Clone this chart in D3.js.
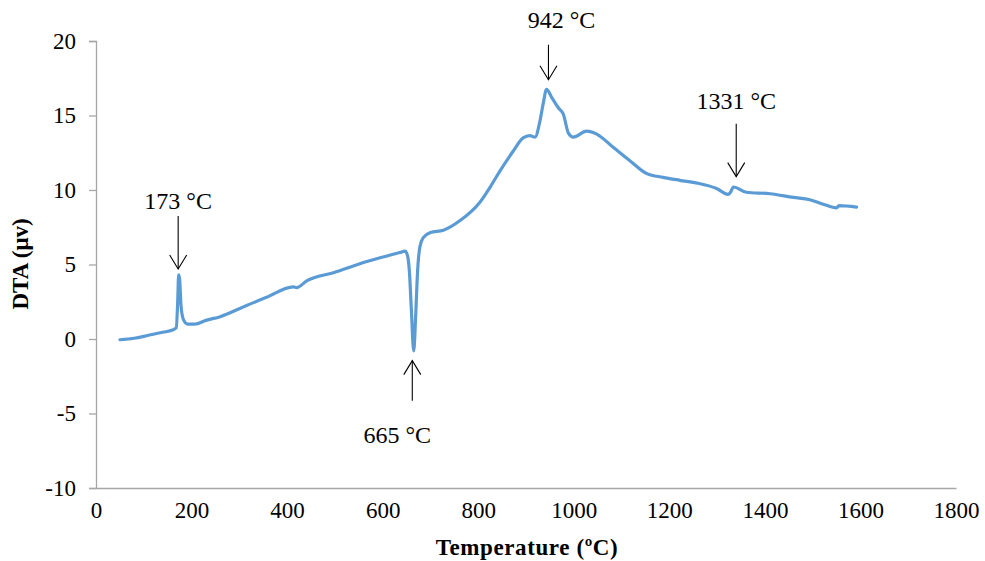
<!doctype html>
<html>
<head>
<meta charset="UTF-8">
<title>DTA</title>
<script src="https://d3js.org/d3.v7.min.js"></script>
<style>
    body { margin: 0; background: #fff; }
    svg text { font-family: "Liberation Serif", "Times New Roman", serif; fill: #000; }
</style>
</head>
<body>
<svg width="985" height="561"></svg>
<script>
    // curve
    var temps = [50, 80, 110, 140, 160, 168, 171, 173, 175, 178, 183, 192, 207, 230, 260, 308, 357, 413, 420, 441,
        497, 567, 636, 647, 652, 656, 660, 665, 669, 673, 678, 685, 700, 727, 762, 804, 825, 846, 873, 894,
        908, 919, 929, 936, 943, 954, 968, 978, 989, 999, 1027, 1048, 1083, 1118, 1153, 1187, 1222, 1260, 1299, 1323,
        1328, 1334, 1361, 1411, 1460, 1494, 1522, 1550, 1555, 1592];
    var dta = [-0.05, 0.05, 0.25, 0.45, 0.6, 0.75, 2.5, 4.3, 4.0, 2.2, 1.3, 1.0, 1.0, 1.25, 1.5, 2.15, 2.8, 3.5, 3.45, 3.9,
        4.45, 5.2, 5.8, 5.9, 5.6, 4.5, 2.0, -0.8, 1.5, 4.5, 6.2, 6.8, 7.15, 7.3, 7.95, 9.2, 10.2, 11.3, 12.6, 13.5,
        13.65, 13.55, 14.6, 15.8, 16.75, 16.2, 15.5, 15.1, 13.8, 13.55, 13.95, 13.75, 12.85, 11.95, 11.1, 10.85, 10.65, 10.45, 10.1, 9.7,
        9.85, 10.2, 9.85, 9.75, 9.5, 9.35, 9.05, 8.8, 8.95, 8.85];

    var xTicks = [0, 200, 400, 600, 800, 1000, 1200, 1400, 1600, 1800];
    var yTicks = [-10, -5, 0, 5, 10, 15, 20];

    // peak annotations: label, arrow tip (T, DTA), arrow tail DTA, label DTA
    var annLabels = ["173 °C", "665 °C", "942 °C", "1331 °C"];
    var annTipT = [172, 662, 947, 1340];
    var annTipY = [4.7, -1.45, 17.4, 10.9];
    var annTailY = [8.25, -4.15, 19.75, 14.45];
    var annTextY = [8.75, -7.0, 20.9, 15.45];

    var margin = { left: 96, right: 29, top: 41, bottom: 73 };
    var W = 985, H = 561;

    var svg = d3.select("svg");

    var x = d3.scaleLinear().domain([0, 1800]).range([margin.left, W - margin.right]);
    var y = d3.scaleLinear().domain([-10, 20]).range([H - margin.bottom, margin.top]);

    var axisColor = "#a6a6a6";
    var fmt = function(d) { return String(d); };

    // y axis
    var gy = svg.append("g")
        .attr("transform", "translate(" + margin.left + ",0)")
        .call(d3.axisLeft(y).tickValues(yTicks).tickSize(7).tickPadding(13).tickFormat(fmt));
    gy.select(".domain").attr("stroke", axisColor).attr("stroke-width", 1.3);
    gy.selectAll(".tick line").attr("stroke", axisColor).attr("stroke-width", 1.3);
    gy.selectAll(".tick text").style("font-size", "23px").attr("fill", "#000");

    // x axis
    var gx = svg.append("g")
        .attr("transform", "translate(0," + y(-10) + ")")
        .call(d3.axisBottom(x).tickValues(xTicks).tickSize(0).tickPadding(14).tickFormat(fmt));
    gx.select(".domain").attr("stroke", axisColor).attr("stroke-width", 1.3);
    gx.selectAll(".tick text").style("font-size", "23px").attr("fill", "#000");

    // axis titles
    svg.append("text")
        .attr("x", 527)
        .attr("y", 555)
        .attr("text-anchor", "middle")
        .style("font-size", "23px")
        .style("font-weight", "bold")
        .style("letter-spacing", "0.6px")
        .text("Temperature (ºC)");

    svg.append("text")
        .attr("transform", "translate(28,264) rotate(-90)")
        .attr("text-anchor", "middle")
        .style("font-size", "23px")
        .style("font-weight", "bold")
        .text("DTA (μv)");

    // curve
    var pts = temps.map(function(t, i) { return [t, dta[i]]; });
    var line = d3.line()
        .x(function(d) { return x(d[0]); })
        .y(function(d) { return y(d[1]); })
        .curve(d3.curveMonotoneX);

    svg.append("path")
        .datum(pts)
        .attr("d", line)
        .attr("fill", "none")
        .attr("stroke", "#5b9bd5")
        .attr("stroke-width", 3.2)
        .attr("stroke-linejoin", "round")
        .attr("stroke-linecap", "round");

    // annotations
    for (var i = 0; i < annLabels.length; i++) {
        var ax = x(annTipT[i]);
        var tipY = y(annTipY[i]);
        var tailY = y(annTailY[i]);
        var dir = tipY > tailY ? 1 : -1;
        var g = svg.append("g");
        g.append("line")
            .attr("x1", ax).attr("x2", ax)
            .attr("y1", tailY).attr("y2", tipY)
            .attr("stroke", "#000").attr("stroke-width", 1.1);
        g.append("path")
            .attr("d", "M" + (ax - 8.5) + "," + (tipY - dir * 14) + "L" + ax + "," + tipY + "L" + (ax + 8.5) + "," + (tipY - dir * 14))
            .attr("fill", "none").attr("stroke", "#000").attr("stroke-width", 1.1);
        g.append("text")
            .attr("x", i == 1 ? ax - 15 : (i == 2 ? ax + 13 : ax))
            .attr("y", y(annTextY[i]))
            .attr("text-anchor", "middle")
            .style("font-size", "24px")
            .text(annLabels[i]);
    }
</script>
</body>
</html>
